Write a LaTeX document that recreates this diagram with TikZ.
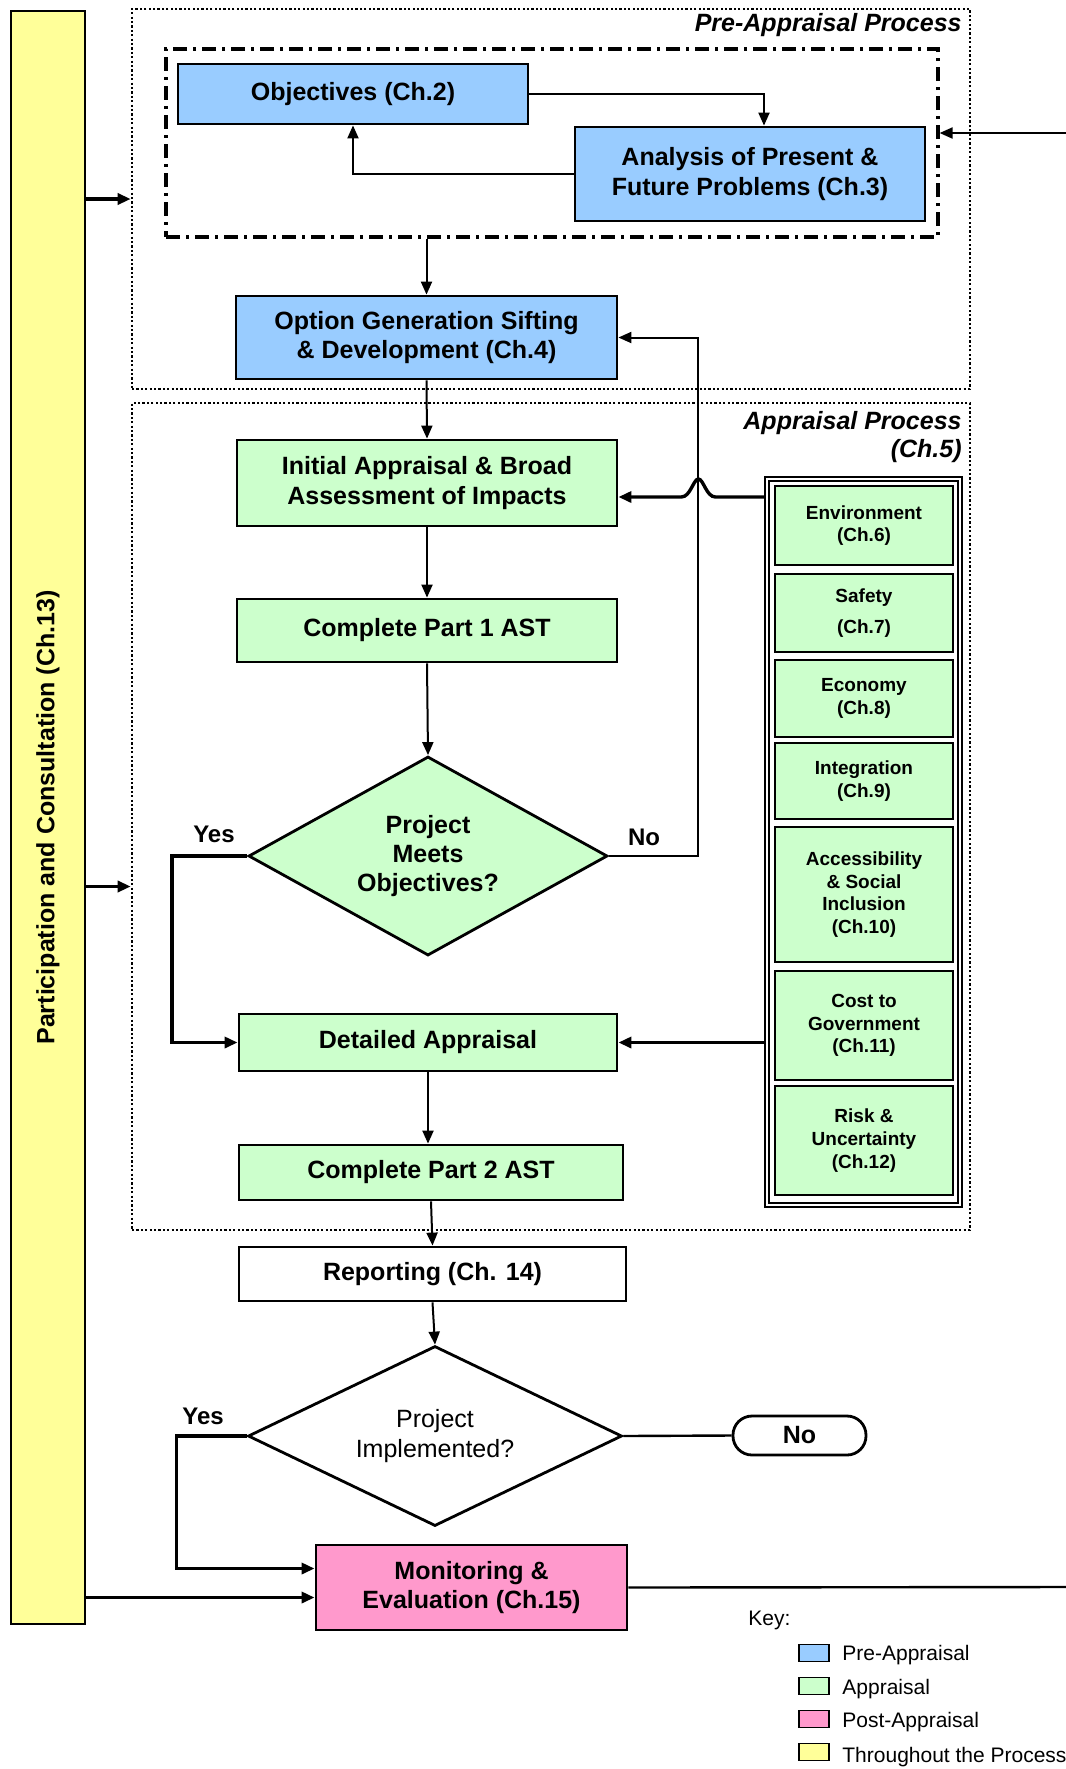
\documentclass[tikz,border=0pt]{standalone}
\usepackage{fontspec}
\setmainfont{Liberation Sans}
\usetikzlibrary{arrows.meta,calc,shapes.geometric}
\definecolor{preblue}{HTML}{99CCFF}
\definecolor{appgreen}{HTML}{CCFFCC}
\definecolor{postpink}{HTML}{FF99CC}
\definecolor{allyellow}{HTML}{FFFF99}
\newcommand{\boxfont}{\bfseries\fontsize{12.5}{14.7}\selectfont}
\newcommand{\factfont}{\bfseries\fontsize{9.5}{11.3}\selectfont}

\begin{document}
\begin{tikzpicture}[x=0.5pt,y=-0.5pt,>={Triangle[length=6.5pt,width=5.5pt]},
  box/.style={draw,line width=1.4pt,align=center,inner sep=2pt,font=\boxfont},
  prebox/.style={box,fill=preblue},
  appbox/.style={box,fill=appgreen},
  factbox/.style={draw,line width=1.3pt,fill=appgreen,align=center,minimum width=89pt,inner sep=1pt,font=\factfont},
  decision/.style={diamond,draw,line width=1.4pt,align=center,inner sep=0pt},
  area/.style={draw,dash pattern=on 1.1pt off 1.1pt,line width=1.3pt},
  flow/.style={line width=1pt,->},
  heavy/.style={line width=1.7pt,->},
  keybox/.style={draw,line width=0.8pt,minimum width=15pt,minimum height=8.5pt,inner sep=0pt},
  keytext/.style={anchor=west,inner sep=0pt,font=\fontsize{10.5}{12}\selectfont}]
\useasboundingbox (0,0) rectangle (1066,1769);

\node (bar) [draw,line width=1.4pt,fill=allyellow,rotate=90,minimum width=806.5pt,minimum height=37pt,inner sep=0pt,font=\bfseries\fontsize{12.5}{15}\selectfont] at (48,817.5) {Participation and Consultation (Ch.13)};

\node (pre) [area,minimum width=419pt,minimum height=190pt] at (551,199) {};
\node (pretitle) [anchor=east,inner sep=0pt,font=\bfseries\itshape\fontsize{12.5}{14.7}\selectfont] at (962,25) {Pre-Appraisal Process};
\node (dash) [draw,line width=1.6pt,dash pattern=on 7pt off 3pt on 1.5pt off 3pt,minimum width=386pt,minimum height=94pt] at (552,143) {};
\node (obj) [prebox,minimum width=175pt,minimum height=30pt] at (353,94) {Objectives (Ch.2)};
\node (ana) [prebox,minimum width=175pt,minimum height=47pt] at (750,174) {Analysis of Present \&\\Future Problems (Ch.3)};
\node (opt) [prebox,minimum width=190.5pt,minimum height=41.5pt] at (426.5,337.5) {Option Generation Sifting\\\& Development (Ch.4)};

\node (app) [area,minimum width=419pt,minimum height=413.5pt] at (551,816.5) {};
\node (apptitle) [anchor=east,align=right,inner sep=0pt,font=\bfseries\itshape\fontsize{12.5}{14}\selectfont] at (962,437) {Appraisal Process\\(Ch.5)};
\node (init) [appbox,minimum width=190pt,minimum height=43pt] at (427,483) {Initial Appraisal \& Broad\\Assessment of Impacts};
\node (cp1) [appbox,minimum width=190pt,minimum height=31.5pt] at (427,630.5) {Complete Part 1 AST};
\node (dia1) [decision,aspect=1.8,fill=appgreen,minimum width=179.5pt,minimum height=99.5pt,font=\boxfont] at (428,856) {Project\\Meets\\Objectives?};
\node (det) [appbox,minimum width=189pt,minimum height=28.5pt] at (428,1042.5) {Detailed Appraisal};
\node (cp2) [appbox,minimum width=192pt,minimum height=27.5pt] at (431,1172.5) {Complete Part 2 AST};

\node (fac) [draw,line width=1.1pt,double,double distance=1pt,minimum width=96.5pt,minimum height=363pt] at (863.5,842) {};
\node (env) [factbox,minimum height=39.5pt] at (864,525.5) {Environment\\(Ch.6)};
\node (saf) [factbox,minimum height=39pt] at (864,613) {Safety\\[4pt](Ch.7)};
\node (eco) [factbox,minimum height=38.5pt] at (864,698.5) {Economy\\(Ch.8)};
\node (int) [factbox,minimum height=38pt] at (864,781) {Integration\\(Ch.9)};
\node (acc) [factbox,minimum height=67.5pt] at (864,894.5) {Accessibility\\\& Social\\Inclusion\\(Ch.10)};
\node (cost) [factbox,minimum height=54.5pt] at (864,1025.5) {Cost to\\Government\\(Ch.11)};
\node (risk) [factbox,minimum height=54.5pt] at (864,1140.5) {Risk \&\\Uncertainty\\(Ch.12)};

\node (rep) [box,fill=white,minimum width=193.5pt,minimum height=27pt] at (432.5,1274) {Reporting (Ch. 14)};
\node (dia2) [decision,aspect=2.08,fill=white,minimum width=187pt,minimum height=90pt,font=\fontsize{12.5}{15}\selectfont] at (435,1436) {Project\\Implemented?};
\node (noend) [box,rounded corners=9.5pt,minimum width=66.5pt,minimum height=19.5pt] at (799.5,1435.5) {No};
\node (mon) [box,fill=postpink,minimum width=155.5pt,minimum height=42.5pt] at (471.5,1587.5) {Monitoring \&\\Evaluation (Ch.15)};

\node (yes1) [font=\bfseries\fontsize{12}{14}\selectfont] at (214,834) {Yes};
\node (no1) [font=\bfseries\fontsize{12}{14}\selectfont] at (644,837) {No};
\node (yes2) [font=\bfseries\fontsize{12}{14}\selectfont] at (203,1416) {Yes};

\coordinate (backin) at (1066,133);
\coordinate (backout) at (1066,1587);
\coordinate (nocorner) at ($(opt.east)+(80,0)$);
\coordinate (hop) at (nocorner |- 0,497);
\coordinate (appin) at ($(app.west)+(0,70)$);
\coordinate (monyes) at ($(mon.west)+(0,-19)$);
\coordinate (monin) at ($(mon.west)+(0,10)$);

\draw[flow] (obj.east) -| ($(ana.north)+(14,0)$);
\draw[flow] (ana.west) -| (obj.south);
\draw[flow] (backin) -- (dash.east |- backin);
\draw[heavy] (bar.south |- pre.west) -- (pre.west);
\draw[flow] (dash.south -| opt.north) -- (opt.north);
\draw[flow] (opt.south) -- (init.north);
\draw[flow] (init.south) -- (cp1.north);
\draw[flow] (cp1.south) -- (dia1.north);
\draw[flow] (dia1.east) -| (nocorner) -- (opt.east);
\draw[heavy] (fac.west |- hop) -- ($(hop)+(17,0)$) .. controls ($(hop)+(8,0)$) and ($(hop)+(5,-18)$) .. ($(hop)+(0,-18)$) .. controls ($(hop)+(-5,-18)$) and ($(hop)+(-8,0)$) .. ($(hop)+(-17,0)$) -- (init.east |- hop);
\draw[heavy] (dia1.west) -- ++(-75,0) |- (det.west);
\draw[heavy] (fac.west |- det.east) -- (det.east);
\draw[heavy] (bar.south |- appin) -- (appin);
\draw[flow] (det.south) -- (det.south |- cp2.north);
\draw[flow] (cp2.south) -- (rep.north);
\draw[flow] (rep.south) -- (dia2.north);
\draw[line width=1.2pt] (dia2.east) -- (noend.west);
\draw[heavy] (dia2.west) -- ++(-70,0) |- (monyes);
\draw[heavy] (bar.south |- monin) -- (monin);
\draw[line width=1.2pt] (mon.east) -- (backout);

\node (key) [anchor=west,inner sep=0pt,font=\fontsize{10.5}{12}\selectfont] at (748,1620) {Key:};
\node (kpre) [keybox,fill=preblue] at (814,1653) {};
\node (kapp) [keybox,fill=appgreen] at (814,1686) {};
\node (kpost) [keybox,fill=postpink] at (814,1719) {};
\node (kall) [keybox,fill=allyellow] at (814,1752) {};
\node (tpre) [keytext] at (842,1655) {Pre-Appraisal};
\node (tapp) [keytext] at (842,1689) {Appraisal};
\node (tpost) [keytext] at (842,1722) {Post-Appraisal};
\node (tall) [keytext] at (842,1757) {Throughout the Process};
\end{tikzpicture}
\end{document}
